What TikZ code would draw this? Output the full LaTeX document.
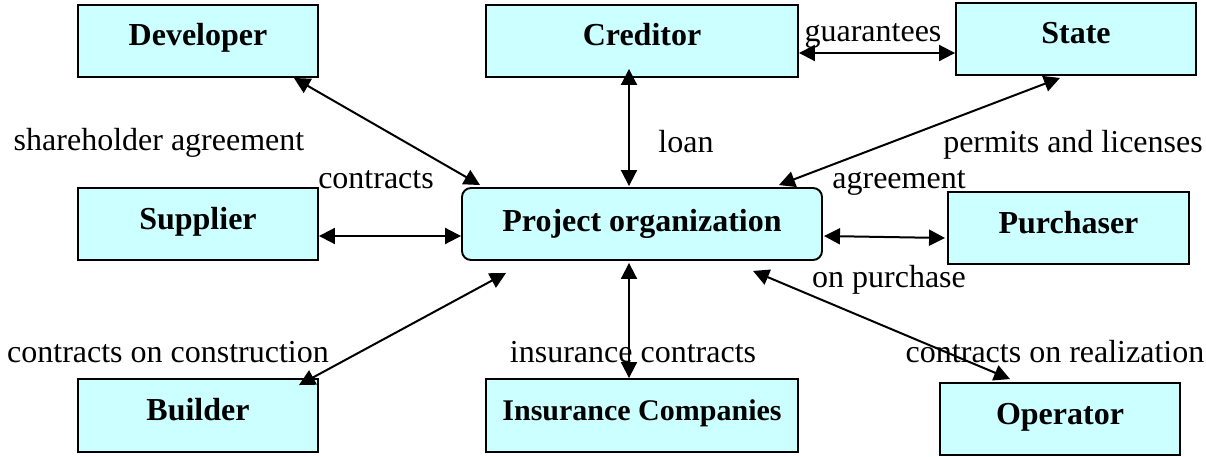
\documentclass[tikz,border=0pt]{standalone}
\usepackage{fontspec}
\setmainfont{Liberation Serif}
\usetikzlibrary{arrows.meta}
\definecolor{boxfill}{HTML}{CCFFFF}
\tikzset{
  box/.style={draw=black, line width=1.9pt, fill=boxfill, minimum width=240pt, minimum height=72pt,
    inner sep=0pt, text height=20pt, text depth=10pt, font=\fontsize{32}{38}\selectfont\bfseries},
  lbl/.style={anchor=base, inner sep=0pt, font=\fontsize{32}{38}\selectfont},
  conn/.style={line width=2pt, {Triangle[length=16pt,width=16pt]}-{Triangle[length=16pt,width=16pt]}},
}
\begin{document}
\begin{tikzpicture}[x=1pt,y=-1pt]
\useasboundingbox (0,0) rectangle (1206,457);
% labels
\node[lbl] (l1) at (159,151) {shareholder agreement};
\node[lbl] (l2) at (376,189) {contracts};
\node[lbl] (l3) at (686,153) {loan};
\node[lbl] (l4) at (873,42) {guarantees};
\node[lbl] (l5) at (1073,153) {permits and licenses};
\node[lbl] (l6) at (899,189) {agreement};
\node[lbl] (l7) at (889,287) {on purchase};
\node[lbl] (l8) at (168,362) {contracts on construction};
\node[lbl] (l9) at (633,362) {insurance contracts};
\node[lbl] (l10) at (1055,362) {contracts on realization};
% boxes
\node[box] (dev) at (198,41) {Developer};
\node[box, minimum width=312pt] (cred) at (642,41) {Creditor};
\node[box] (state) at (1076,39) {State};
\node[box] (sup) at (198,224) {Supplier};
\node[box, minimum width=360pt, rounded corners=9pt, text height=22pt, text depth=8pt] (proj) at (642,224) {Project organization};
\node[box, minimum width=241pt] (purch) at (1068.5,228) {Purchaser};
\node[box, minimum height=73pt] (build) at (198,415.5) {Builder};
\node[box, minimum width=312pt, minimum height=73pt, font=\fontsize{30}{36}\selectfont\bfseries] (ins) at (642,415.5) {Insurance Companies};
\node[box] (oper) at (1060,419) {Operator};
% connectors
\draw[conn] ([xshift=-25pt,yshift=0pt]dev.south east) -- ([xshift=19pt,yshift=2pt]proj.north west);
\draw[conn] ([xshift=-13pt,yshift=9pt]cred.south) -- ([xshift=-13pt,yshift=1pt]proj.north);
\draw[conn] ([yshift=-12pt]cred.east) -- ([yshift=-14pt]state.west);
\draw[conn] ([xshift=-16pt,yshift=-2pt]state.south) -- ([xshift=-44pt,yshift=2pt]proj.north east);
\draw[conn] ([yshift=-12pt]sup.east) -- ([yshift=-12pt]proj.west);
\draw[conn] ([xshift=1pt,yshift=-12pt]proj.east) -- ([xshift=-2pt,yshift=-10pt]purch.west);
\draw[conn] ([xshift=-20pt,yshift=-7pt]build.north east) -- ([xshift=45pt,yshift=-12pt]proj.south west);
\draw[conn] ([xshift=-13pt]ins.north) -- ([xshift=-13pt,yshift=-2pt]proj.south);
\draw[conn] ([xshift=-50pt,yshift=3pt]oper.north) -- ([xshift=111pt,yshift=-10pt]proj.south);
\end{tikzpicture}
\end{document}
